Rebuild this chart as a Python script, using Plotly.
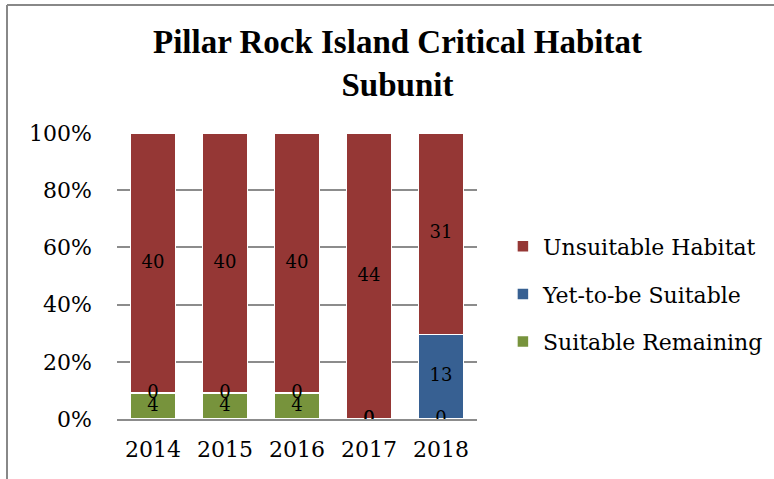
import plotly.graph_objects as go

years = ["2014", "2015", "2016", "2017", "2018"]
suitable_remaining = [4, 4, 4, 0, 0]
yet_to_be_suitable = [0, 0, 0, 0, 13]
unsuitable_habitat = [40, 40, 40, 44, 31]

series_names = ["Suitable Remaining", "Yet-to-be Suitable", "Unsuitable Habitat"]
series_values = [suitable_remaining, yet_to_be_suitable, unsuitable_habitat]
series_colors = ["#77933C", "#376092", "#953735"]
legend_ranks = [3, 2, 1]

title_text = "Pillar Rock Island Critical Habitat<br>Subunit"
y_ticks = [0, 20, 40, 60, 80, 100]
y_tick_labels = ["0%", "20%", "40%", "60%", "80%", "100%"]

FONT = "DejaVu Serif, Liberation Serif, serif"

fig = go.Figure()
for name, vals, col, rank in zip(series_names, series_values, series_colors, legend_ranks):
    fig.add_trace(go.Bar(
        x=years, y=vals, name=name, legendgroup=name, legendrank=rank,
        marker=dict(color=col, line=dict(color="white", width=1.5)),
        hoverinfo="x+y+name",
    ))

# data labels at the middle of each stacked segment (percent scale)
totals = [sum(v) for v in zip(*series_values)]
lab_x, lab_y, lab_t = [], [], []
cum = [0.0] * len(years)
for vals in series_values:
    for i, v in enumerate(vals):
        pct = 100.0 * v / totals[i]
        lab_x.append(years[i])
        lab_y.append(cum[i] + pct / 2)
        lab_t.append(str(v))
        cum[i] += pct
fig.add_trace(go.Scatter(
    x=lab_x, y=lab_y, text=lab_t, mode="text", showlegend=False,
    textfont=dict(family=FONT, size=18, color="black"), hoverinfo="skip",
))

fig.update_layout(
    width=774, height=479,
    margin=dict(l=117, r=297, t=133, b=60, autoexpand=False),
    paper_bgcolor="white", plot_bgcolor="white",
    barmode="stack", barnorm="percent", bargap=0.375,
    font=dict(family=FONT, size=22, color="black"),
    title=dict(
        text=title_text, x=0.5135, xanchor="center", y=0.889, yanchor="middle",
        font=dict(family="Liberation Serif, serif", size=33, color="black", weight="bold"),
    ),
    legend=dict(
        x=1.072, y=0.437, xanchor="left", yanchor="middle",
        traceorder="grouped", tracegroupgap=16,
        font=dict(family=FONT, size=22, color="black"),
        bgcolor="rgba(0,0,0,0)",
    ),
    showlegend=True,
)
fig.update_xaxes(
    type="category", showgrid=False, showline=True, linecolor="#8c8c8c", linewidth=2,
    ticks="", ticklabelstandoff=10, tickfont=dict(family=FONT, size=22),
)
fig.update_yaxes(
    range=[0, 100], tickmode="array", tickvals=y_ticks, ticktext=y_tick_labels,
    showgrid=True, gridcolor="#8c8c8c", gridwidth=1.5, zeroline=False, showline=False,
    ticks="", ticklabelstandoff=24, tickfont=dict(family=FONT, size=22),
)

# outer frame (left and top edges)
fig.add_shape(type="line", xref="paper", yref="paper",
              x0=(7 - 117) / 360, x1=(7 - 117) / 360, y0=(419 - 5) / 286, y1=(419 - 480) / 286,
              line=dict(color="#888888", width=2))
fig.add_shape(type="line", xref="paper", yref="paper",
              x0=(7 - 117) / 360, x1=(775 - 117) / 360, y0=(419 - 5) / 286, y1=(419 - 5) / 286,
              line=dict(color="#888888", width=2))

fig.write_html(
    "out.html",
    config={"displayModeBar": False},
    post_script="document.body.style.margin='0';document.body.style.overflow='hidden';",
)
